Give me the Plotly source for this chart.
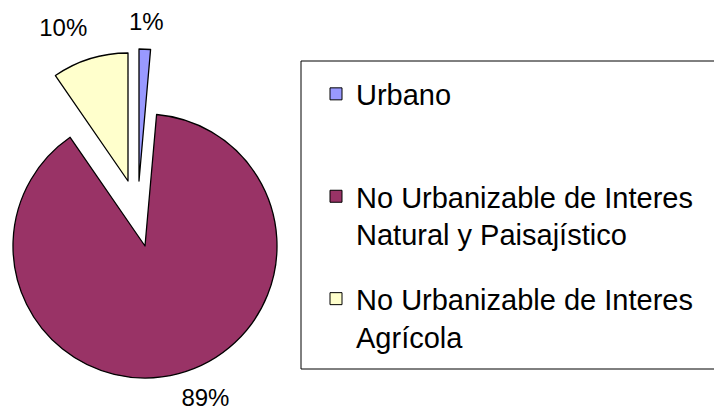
import plotly.graph_objects as go

W, H = 714, 412

labels = [
    "Urbano<br> ",
    "No Urbanizable de Interes<br>Natural y Paisajístico",
    "No Urbanizable de Interes<br>Agrícola",
]
values = [1.4, 89.0, 9.6]
colors = ["#9999ff", "#993366", "#ffffcc"]

FONT = "Liberation Sans, Arial, sans-serif"
CLEAR = "rgba(0,0,0,0)"

# exploded look: each slice gets its own pie (pixel centre, radius)
slice_pos = [(139, 181, 132), (145, 246, 132), (128, 181, 128)]
# percent labels sit a bit further out, so they ride on invisible pies
label_pos = [(117, 152, 117), (141, 257, 132), (132, 162, 128)]


def domain(cx, cy, r):
    return dict(x=[(cx - r) / W, (cx + r) / W],
                y=[1 - (cy + r) / H, 1 - (cy - r) / H])


fig = go.Figure()

# legend-only pies, tucked under the big slice
for i in range(len(labels)):
    fig.add_trace(go.Pie(
        labels=[labels[i]], values=[values[i]], sort=False,
        marker=dict(colors=[colors[i]], line=dict(color="black", width=1)),
        textinfo="none", hoverinfo="skip", legendgroup=str(i),
        domain=dict(x=[0.2, 0.20005], y=[0.3, 0.30005]),
    ))

for i, (cx, cy, r) in enumerate(slice_pos):
    fig.add_trace(go.Pie(
        labels=labels, values=values, sort=False,
        direction="clockwise", rotation=0,
        marker=dict(
            colors=[c if j == i else CLEAR for j, c in enumerate(colors)],
            line=dict(color="black", width=[1.3 if j == i else 0 for j in range(3)]),
        ),
        textinfo="none", showlegend=False,
        domain=domain(cx, cy, r),
    ))

for i, (cx, cy, r) in enumerate(label_pos):
    fig.add_trace(go.Pie(
        labels=labels, values=values, sort=False,
        direction="clockwise", rotation=0,
        marker=dict(colors=[CLEAR] * 3, line=dict(width=0)),
        texttemplate="%{percent:.0%}",
        textposition=["outside" if j == i else "none" for j in range(3)],
        outsidetextfont=dict(family=FONT, size=24, color="black"),
        hoverinfo="skip", showlegend=False,
        domain=domain(cx, cy, r),
    ))

fig.add_shape(type="rect", xref="paper", yref="paper",
              x0=301 / W, x1=1.002, y0=1 - 369 / H, y1=1 - 61 / H,
              line=dict(color="black", width=1))

fig.update_layout(
    width=W, height=H,
    margin=dict(l=0, r=0, t=0, b=0, autoexpand=False),
    paper_bgcolor="white", plot_bgcolor="white",
    font=dict(family=FONT, color="black"),
    legend=dict(
        x=316 / W, y=1 - 68.5 / H, xanchor="left", yanchor="top",
        font=dict(family=FONT, size=29, color="black"),
        valign="top", tracegroupgap=24, traceorder="grouped",
        bgcolor=CLEAR, borderwidth=0,
    ),
)

fig.write_html("out.html", config={"displayModeBar": False},
               post_script="document.body.style.margin = '0px';")
